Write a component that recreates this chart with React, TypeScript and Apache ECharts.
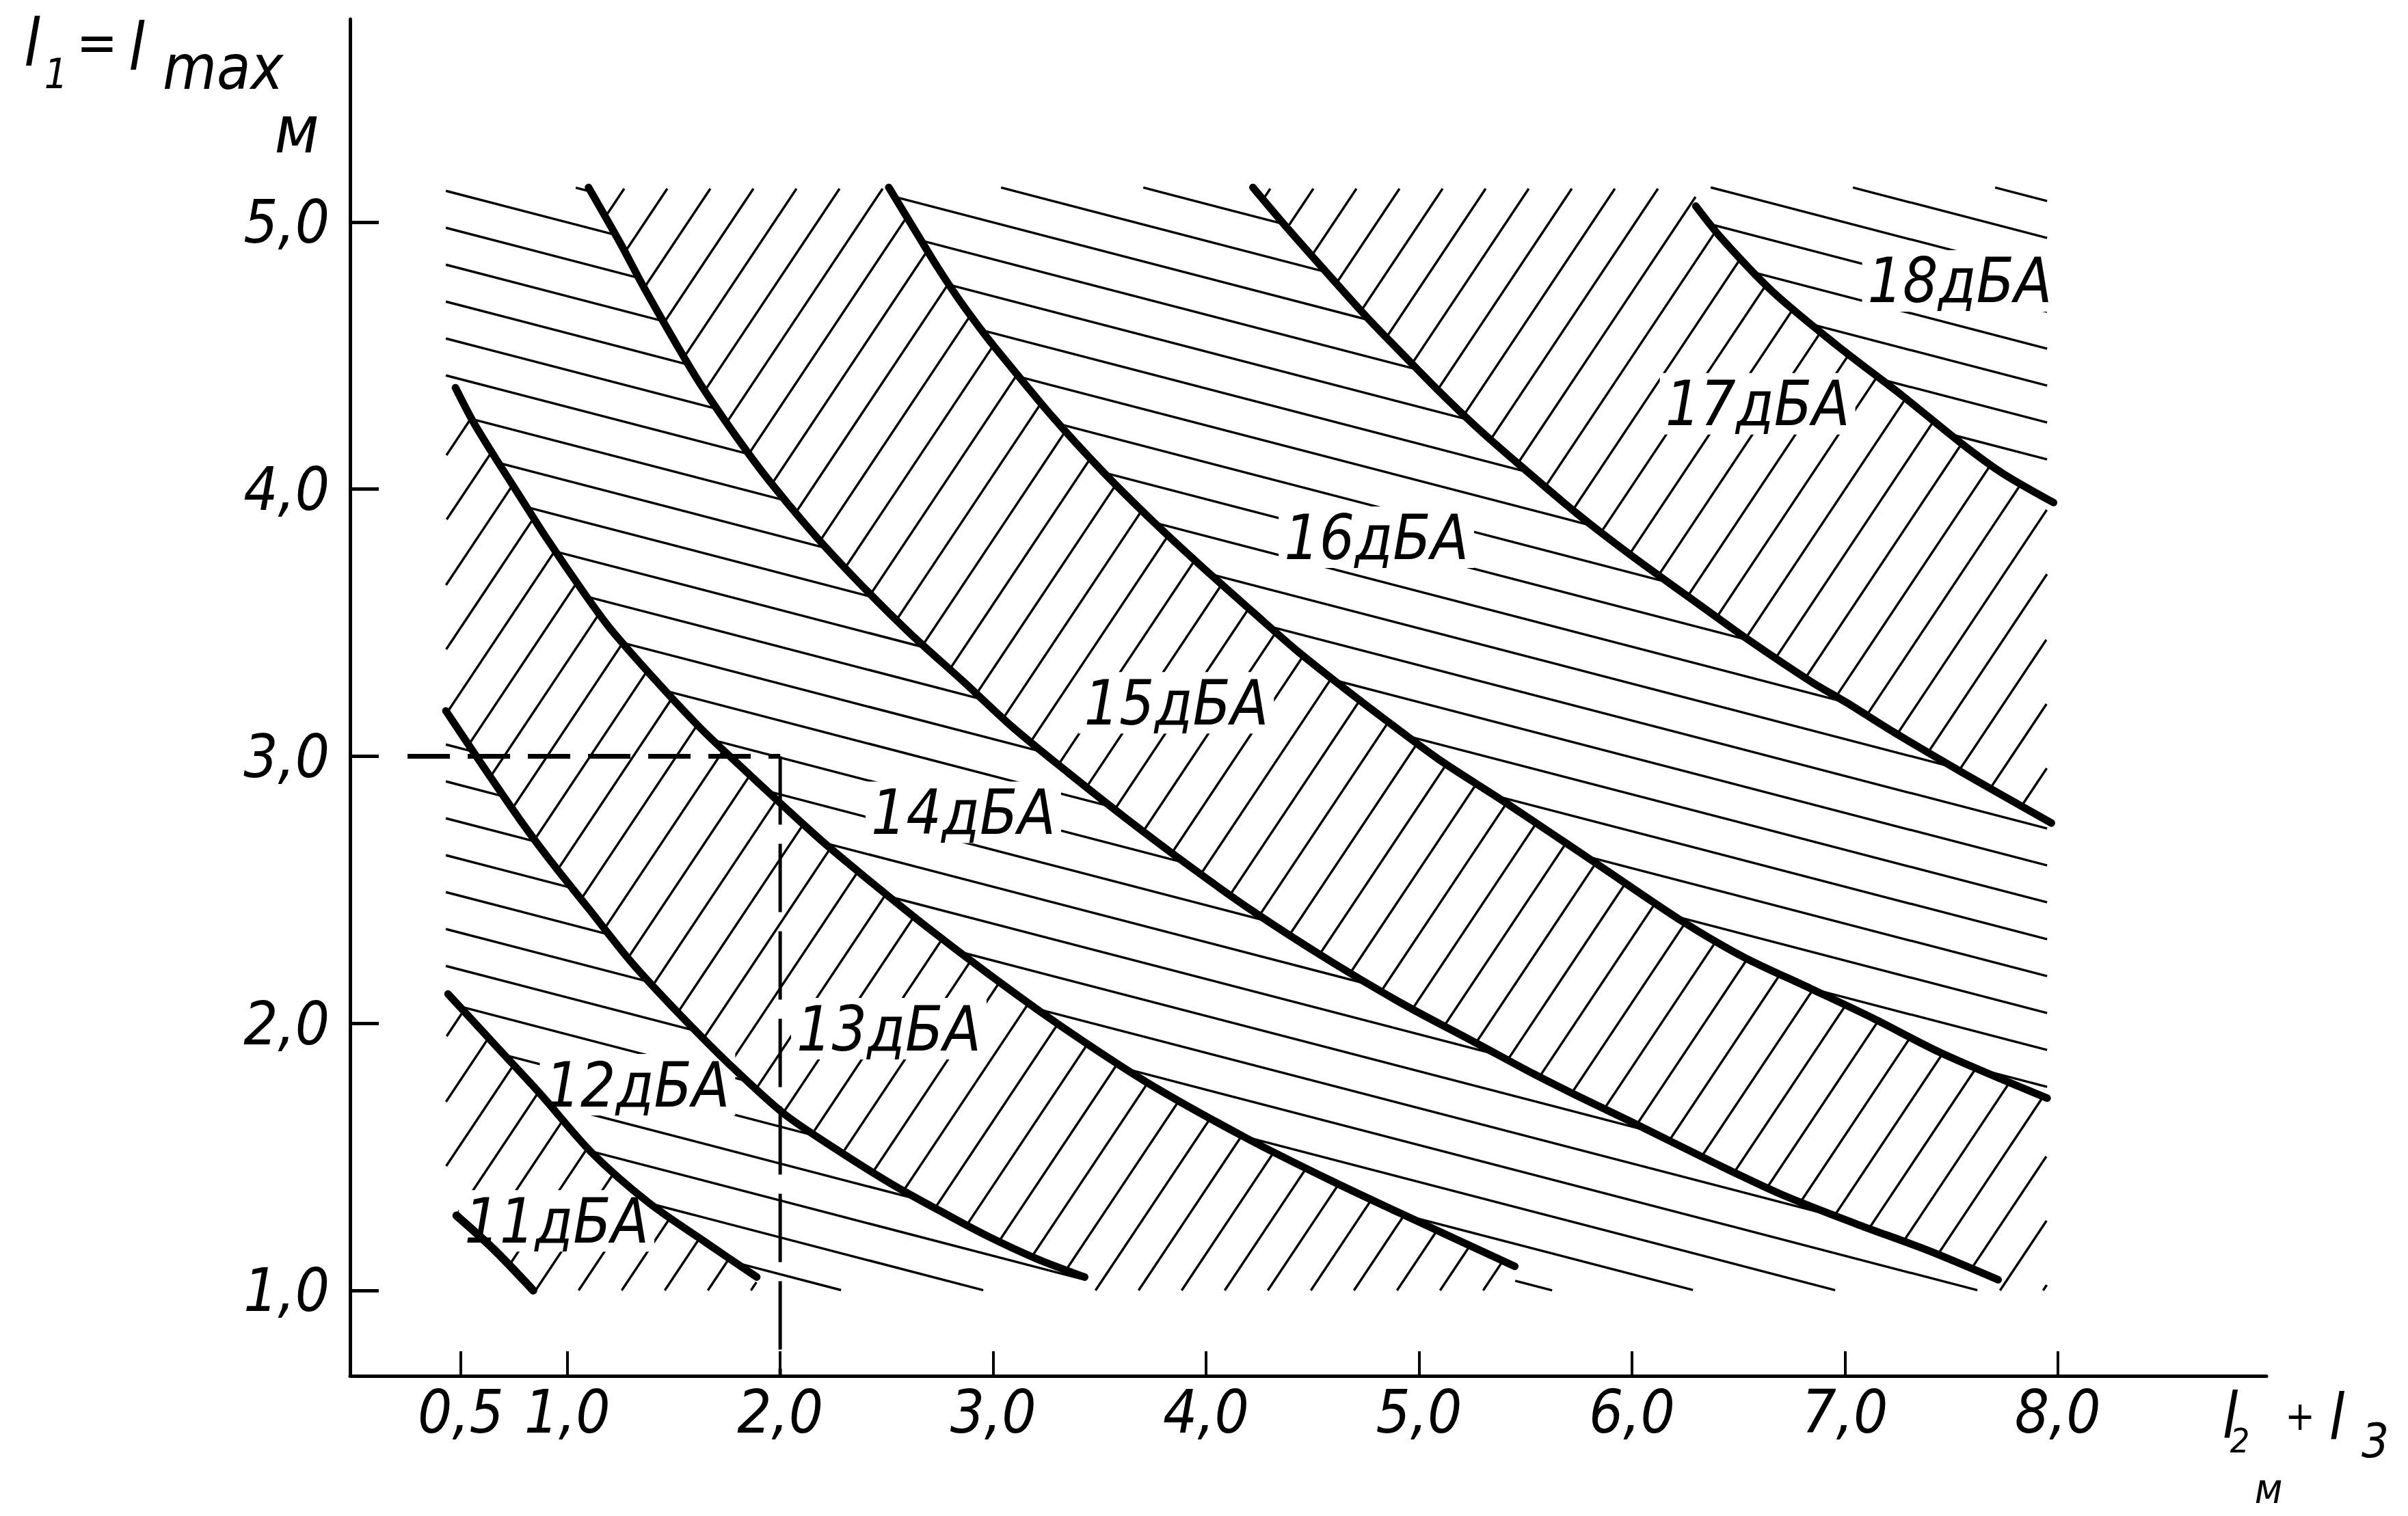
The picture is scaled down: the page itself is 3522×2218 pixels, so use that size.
import React, { useEffect, useRef } from 'react';
import * as echarts from 'echarts';

// ---------- data ----------
const X_TICKS = [0.5, 1, 2, 3, 4, 5, 6, 7, 8];
const Y_TICKS = [1, 2, 3, 4, 5];
const X_RANGE = [-0.02, 8.98];
const Y_RANGE = [0.68, 5.76];

const CURVE_A = [[0.48, 1.28], [0.66, 1.15], [0.84, 1.0]];
const CURVE_B = [[0.44, 2.11], [0.66, 1.92], [0.88, 1.73], [1.11, 1.52], [1.38, 1.33], [1.65, 1.18], [1.89, 1.05]];
const CURVE_C = [[0.43, 3.17], [0.59, 2.98], [0.78, 2.76], [0.91, 2.62], [1.1, 2.43], [1.3, 2.23], [1.52, 2.04], [1.77, 1.84], [2.02, 1.66], [2.26, 1.53], [2.52, 1.4], [2.78, 1.285], [2.97, 1.205], [3.2, 1.12], [3.43, 1.05]];
const CURVE_D = [[0.475, 4.38], [0.56, 4.25], [0.66, 4.12], [0.78, 3.97], [0.9, 3.82], [1.08, 3.61], [1.2, 3.48], [1.42, 3.28], [1.62, 3.11], [1.79, 2.98], [2.02, 2.81], [2.2, 2.68], [2.41, 2.54], [2.69, 2.36], [2.97, 2.19], [3.3, 2.0], [3.72, 1.78], [4.19, 1.57], [4.59, 1.41], [4.99, 1.26], [5.45, 1.09]];
const CURVE_E = [[1.1, 5.13], [1.25, 4.92], [1.35, 4.77], [1.5, 4.56], [1.62, 4.4], [1.8, 4.19], [1.95, 4.03], [2.16, 3.83], [2.37, 3.65], [2.61, 3.46], [2.86, 3.28], [3.09, 3.11], [3.35, 2.94], [3.62, 2.77], [3.92, 2.59], [4.22, 2.42], [4.59, 2.23], [4.93, 2.07], [5.26, 1.93], [5.54, 1.81], [5.74, 1.73], [6.0, 1.63], [6.38, 1.48], [6.7, 1.36], [7.05, 1.25], [7.39, 1.15], [7.72, 1.04]];
const CURVE_F = [[2.51, 5.13], [2.64, 4.96], [2.74, 4.83], [2.84, 4.71], [2.96, 4.58], [3.04, 4.5], [3.28, 4.27], [3.51, 4.07], [3.75, 3.88], [3.98, 3.71], [4.22, 3.54], [4.42, 3.4], [4.64, 3.26], [4.82, 3.15], [5.09, 2.99], [5.4, 2.83], [5.83, 2.6], [6.24, 2.38], [6.52, 2.25], [6.84, 2.13], [7.13, 2.02], [7.45, 1.89], [7.95, 1.72]];
const CURVE_G = [[4.22, 5.13], [4.39, 4.97], [4.59, 4.79], [4.76, 4.64], [4.93, 4.5], [5.09, 4.37], [5.26, 4.24], [5.43, 4.12], [5.74, 3.91], [6.0, 3.75], [6.26, 3.6], [6.54, 3.44], [6.84, 3.28], [7.01, 3.2], [7.23, 3.09], [7.55, 2.94], [7.97, 2.75]];
const CURVE_H = [[6.3, 5.06], [6.42, 4.94], [6.66, 4.74], [6.96, 4.54], [7.27, 4.35], [7.55, 4.17], [7.74, 4.06], [7.98, 3.95]];

const CURVES = [CURVE_A, CURVE_B, CURVE_C, CURVE_D, CURVE_E, CURVE_F, CURVE_G, CURVE_H];
const CURVE_STARTS_AT_TOP = [false, false, false, false, true, true, true, true];
const CURVE_ENDS_AT_BOTTOM = [true, true, true, true, true, false, false, false];
// hatch type of each band (band k lies above k curves)
const BAND_HATCH = ['', '/', '\\', '/', '\\', '/', '\\', '/', '\\'];
const HATCH_X = [0.43, 7.95];
const HATCH_Y = [1.0, 5.13];

const LABEL_NAMES = ['11дБА', '12дБА', '13дБА', '14дБА', '15дБА', '16дБА', '17дБА', '18дБА'];
const LABEL_POS = [[0.95, 1.26], [1.33, 1.77], [2.51, 1.98], [2.86, 2.79], [3.86, 3.2], [4.8, 3.82], [6.59, 4.32], [7.54, 4.78]];

const DASH_H = [[0.25, 3.0], [2.0, 3.0]];
const DASH_V = [[2.0, 3.0], [2.0, 0.68]];

// ---------- styles ----------
const FONT = "'DejaVu Sans Condensed', 'Liberation Sans Narrow', 'DejaVu Sans', sans-serif";
const INK = '#000000';

const fmt = (v: number) => v.toFixed(1).replace('.', ',');

function hatchRenderItem(params: any, api: any) {
  const pcs = CURVES.map((c) => c.map((p) => api.coord(p)));
  const bl = api.coord([HATCH_X[0], HATCH_Y[0]]);
  const tr = api.coord([HATCH_X[1], HATCH_Y[1]]);
  const x0 = bl[0], y1 = bl[1], x1 = tr[0], y0 = tr[1];

  const above = (k: number, px: number, py: number) => {
    const c = pcs[k];
    if (px < c[0][0]) {
      if (CURVE_STARTS_AT_TOP[k]) return false;
      return py < c[0][1];
    }
    const last = c[c.length - 1];
    if (px > last[0]) {
      if (CURVE_ENDS_AT_BOTTOM[k]) return true;
      return py < last[1];
    }
    for (let i = 1; i < c.length; i++) {
      if (px <= c[i][0]) {
        const t = (px - c[i - 1][0]) / (c[i][0] - c[i - 1][0] || 1);
        const cy = c[i - 1][1] + t * (c[i][1] - c[i - 1][1]);
        return py < cy;
      }
    }
    return false;
  };
  const kindAt = (px: number, py: number) => {
    let n = 0;
    for (let k = 0; k < pcs.length; k++) if (above(k, px, py)) n++;
    return BAND_HATCH[n];
  };

  const children: any[] = [];
  const style = { stroke: INK, lineWidth: 3.4 };
  const push = (ax: number, ay: number, bx: number, by: number) => {
    if (Math.hypot(bx - ax, by - ay) < 6) return;
    children.push({ type: 'line', shape: { x1: ax, y1: ay, x2: bx, y2: by }, style });
  };
  const STEP = 2;

  // shallow "\" family: y = b + s * (x - x0)
  const s = 0.26;
  const gapY = 54;
  for (let b = y0 - s * (x1 - x0) + 20; b <= y1; b += gapY) {
    let start: number[] | null = null;
    let prev: number[] | null = null;
    for (let x = x0; x <= x1; x += STEP) {
      const y = b + s * (x - x0);
      const ok = y >= y0 && y <= y1 && kindAt(x, y) === '\\';
      if (ok) {
        if (!start) start = [x, y];
        prev = [x, y];
      } else if (start && prev) {
        push(start[0], start[1], prev[0], prev[1]);
        start = null;
      }
    }
    if (start && prev) push(start[0], start[1], prev[0], prev[1]);
  }

  // steep "/" family: x = a + (y1 - y) / m
  const m = 1.5;
  const gapX = 63;
  for (let a = x0 - (y1 - y0) / m + 10; a <= x1; a += gapX) {
    let start: number[] | null = null;
    let prev: number[] | null = null;
    for (let y = y1; y >= y0; y -= STEP) {
      const x = a + (y1 - y) / m;
      const ok = x >= x0 && x <= x1 && kindAt(x, y) === '/';
      if (ok) {
        if (!start) start = [x, y];
        prev = [x, y];
      } else if (start && prev) {
        push(start[0], start[1], prev[0], prev[1]);
        start = null;
      }
    }
    if (start && prev) push(start[0], start[1], prev[0], prev[1]);
  }
  return { type: 'group', children };
}

function labelRenderItem(params: any, api: any) {
  const p = api.coord([api.value(0), api.value(1)]);
  return {
    type: 'text',
    x: p[0],
    y: p[1],
    style: {
      text: LABEL_NAMES[params.dataIndex],
      fill: INK,
      font: `italic 90px ${FONT}`,
      align: 'center',
      verticalAlign: 'middle',
      backgroundColor: '#fff',
      padding: [0, 8],
    },
  };
}

function txt(text: string, x: number, y: number, size: number, family = FONT, align = 'center') {
  return {
    type: 'text',
    x,
    y,
    silent: true,
    style: {
      text,
      fill: INK,
      font: `italic ${size}px ${family}`,
      align,
      textAlign: align,
      verticalAlign: 'middle',
      textVerticalAlign: 'middle',
    },
  };
}

export default function App() {
  const ref = useRef<HTMLDivElement>(null);
  useEffect(() => {
    document.body.style.margin = '0';
    document.body.style.overflow = 'hidden';
    if (!ref.current) return;
    const chart = echarts.init(ref.current, null, { renderer: 'svg' });
    const axisLabelBase = {
      color: INK,
      fontSize: 88,
      fontStyle: 'italic',
      fontFamily: FONT,
      formatter: (v: number) => fmt(v),
    };
    const curveSeries = CURVES.map((c, i) => ({
      type: 'line',
      data: c,
      showSymbol: false,
      symbol: 'none',
      smooth: 0.3,
      z: 8,
      silent: true,
      lineStyle: { color: INK, width: i === 0 ? 12 : 11, cap: 'round', join: 'round' },
    }));
    chart.setOption({
      animation: false,
      backgroundColor: '#fff',
      grid: { left: 512, right: 207, top: 28, bottom: 205, containLabel: false },
      xAxis: {
        type: 'value',
        min: X_RANGE[0],
        max: X_RANGE[1],
        splitLine: { show: false },
        axisLine: { show: true, onZero: false, lineStyle: { color: INK, width: 5 } },
        axisTick: { show: true, inside: true, length: 36, customValues: X_TICKS, lineStyle: { color: INK, width: 4 } },
        axisLabel: { ...axisLabelBase, margin: 8, customValues: X_TICKS },
      },
      yAxis: {
        type: 'value',
        min: Y_RANGE[0],
        max: Y_RANGE[1],
        splitLine: { show: false },
        axisLine: { show: true, onZero: false, lineStyle: { color: INK, width: 5 } },
        axisTick: { show: true, inside: true, length: 42, customValues: Y_TICKS, lineStyle: { color: INK, width: 5 } },
        axisLabel: { ...axisLabelBase, margin: 30, customValues: Y_TICKS },
      },
      series: [
        {
          type: 'custom',
          coordinateSystem: 'cartesian2d',
          data: [[1, 1]],
          clip: false,
          silent: true,
          z: 1,
          renderItem: hatchRenderItem,
        },
        ...curveSeries,
        {
          type: 'line',
          data: DASH_H,
          showSymbol: false,
          symbol: 'none',
          silent: true,
          z: 3,
          lineStyle: { color: INK, width: 7, type: [62, 26] },
        },
        {
          type: 'line',
          data: DASH_V,
          showSymbol: false,
          symbol: 'none',
          silent: true,
          z: 3,
          lineStyle: { color: INK, width: 5, type: [100, 28] },
        },
        {
          type: 'custom',
          coordinateSystem: 'cartesian2d',
          data: LABEL_POS,
          clip: false,
          silent: true,
          z: 6,
          renderItem: labelRenderItem,
        },
      ],
      graphic: {
        elements: [
          // y axis name: l1 = l max, м
          txt('l', 47, 63, 96),
          txt('1', 82, 108, 60),
          txt('=', 142, 62, 80),
          txt('l', 200, 69, 96),
          txt('max', 238, 98, 90, FONT, 'left'),
          txt('м', 434, 190, 96),
          // x axis name: l2 + l3, м
          txt('l', 3262, 2072, 92),
          txt('2', 3276, 2108, 50),
          txt('+', 3364, 2072, 58),
          txt('l', 3418, 2074, 92),
          txt('3', 3474, 2108, 70),
          txt('м', 3318, 2178, 60),
        ],
      },
    });
    return () => chart.dispose();
  }, []);
  return <div ref={ref} style={{ width: 3522, height: 2218 }} />;
}
